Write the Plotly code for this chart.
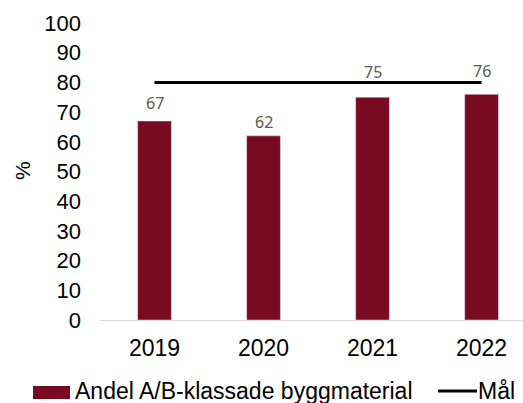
import plotly.graph_objects as go

years = ["2019", "2020", "2021", "2022"]
andel = [67, 62, 75, 76]
mal = [80, 80, 80, 80]
label_shift = [18, 14, 25, 23]

bar_color = "#780A22"
font_main = "Liberation Sans, Arial, sans-serif"

fig = go.Figure()
fig.add_trace(go.Bar(x=years, y=andel, marker_color=bar_color, width=0.31,
                     name="Andel A/B-klassade byggmaterial", showlegend=False))
fig.add_trace(go.Scatter(x=years, y=mal, mode="lines", line=dict(color="black", width=3),
                         name="Mål", showlegend=False))

for i, (v, s) in enumerate(zip(andel, label_shift)):
    fig.add_annotation(x=i, y=v, text=str(v), showarrow=False, yanchor="middle",
                       yshift=s, font=dict(family="Noto Sans, sans-serif", size=16, color="#595959"))

fig.update_layout(
    width=523, height=403,
    margin=dict(l=100, r=0, t=23, b=83),
    plot_bgcolor="white", paper_bgcolor="white",
    font=dict(family=font_main, size=22, color="black"),
    xaxis=dict(type="category", range=[-0.5, 3.38], showline=True, linecolor="#D9D9D9",
               linewidth=1, showgrid=False, ticks="", ticklabelstandoff=7, automargin=False,
               tickfont=dict(size=23)),
    yaxis=dict(range=[0, 100], dtick=10, showgrid=False, zeroline=False, showline=False,
               ticks="", ticklabelstandoff=18, automargin=False, tickfont=dict(size=22)),
)

H = 297.0
W = 423.0
def px(x):
    return (x - 100) / W
def py(y):
    return (320 - y) / H

# y-axis title
fig.add_annotation(xref="paper", yref="paper", x=px(22), y=py(171), text="%", textangle=-90,
                   showarrow=False, xanchor="center", yanchor="middle",
                   font=dict(family=font_main, size=21, color="black"))

# custom legend
fig.add_shape(type="rect", xref="paper", yref="paper", x0=px(33), x1=px(70), y0=py(399), y1=py(386),
              line_width=0, fillcolor=bar_color)
fig.add_annotation(xref="paper", yref="paper", x=px(73), y=py(391), xanchor="left", yanchor="middle",
                   text="Andel A/B-klassade byggmaterial", showarrow=False,
                   font=dict(family=font_main, size=23, color="black"))
fig.add_shape(type="line", xref="paper", yref="paper", x0=px(438), x1=px(477), y0=py(391), y1=py(391),
              line=dict(color="black", width=3))
fig.add_annotation(xref="paper", yref="paper", x=px(476), y=py(391), xanchor="left", yanchor="middle",
                   text="Mål", showarrow=False,
                   font=dict(family=font_main, size=23, color="black"))

fig.write_html("out.html", config={"displayModeBar": False},
               post_script="document.body.style.margin='0';document.body.style.overflow='hidden';")
